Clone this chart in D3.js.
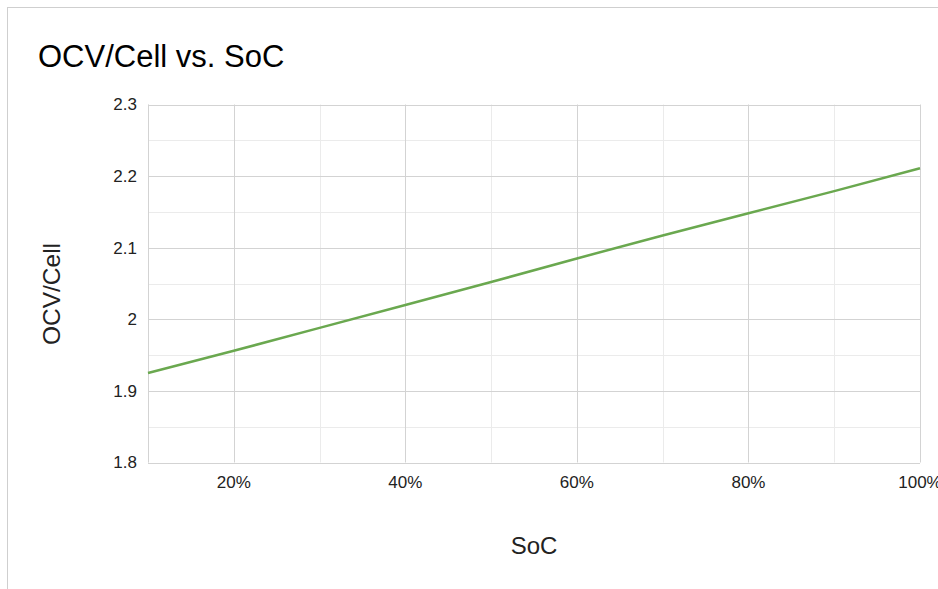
<!DOCTYPE html>
<html><head><meta charset="utf-8">
<script src="https://cdn.jsdelivr.net/npm/d3@7/dist/d3.min.js"></script>
<style>body{margin:0;background:#fff}svg{display:block;font-family:"Liberation Sans",Arial,sans-serif}</style>
</head><body><svg id="c" width="938" height="589"></svg>
<script>
const soc = [10, 20, 30, 40, 50, 60, 70, 80, 90, 100];
const ocv = [1.925, 1.956, 1.988, 2.020, 2.052, 2.085, 2.117, 2.148, 2.179, 2.211];
const xTicks = [20, 40, 60, 80, 100];
const xMinor = [10, 30, 50, 70, 90];
const yTicks = [1.8, 1.9, 2.0, 2.1, 2.2, 2.3];
const yMinor = [1.85, 1.95, 2.05, 2.15, 2.25];
const title = "OCV/Cell vs. SoC", xTitle = "SoC", yTitle = "OCV/Cell";

const svg = d3.select("#c");
const L = 148, R = 920, T = 104.5, B = 462.5;
const x = d3.scaleLinear().domain([10, 100]).range([L, R]);
const y = d3.scaleLinear().domain([1.8, 2.3]).range([B, T]);

svg.append("rect").attr("x", 7.5).attr("y", 7.5).attr("width", 960).attr("height", 600)
  .attr("fill", "#fff").attr("stroke", "#cfcfcf");

const g = svg.append("g");
g.selectAll(".xm").data(xMinor).join("line")
  .attr("x1", d => Math.round(x(d)) + 0.5).attr("x2", d => Math.round(x(d)) + 0.5)
  .attr("y1", T).attr("y2", B).attr("stroke", "#ebebeb");
g.selectAll(".ym").data(yMinor).join("line")
  .attr("y1", d => Math.round(y(d)) + 0.5).attr("y2", d => Math.round(y(d)) + 0.5)
  .attr("x1", L).attr("x2", R).attr("stroke", "#ebebeb");
g.selectAll(".xg").data(xTicks).join("line")
  .attr("x1", d => Math.round(x(d)) + 0.5).attr("x2", d => Math.round(x(d)) + 0.5)
  .attr("y1", T).attr("y2", B).attr("stroke", "#d3d3d3");
g.selectAll(".yg").data(yTicks).join("line")
  .attr("y1", d => Math.round(y(d)) + 0.5).attr("y2", d => Math.round(y(d)) + 0.5)
  .attr("x1", L).attr("x2", R).attr("stroke", "#d3d3d3");
g.append("line").attr("x1", L + 0.5).attr("x2", L + 0.5).attr("y1", T).attr("y2", B).attr("stroke", "#d3d3d3");

const line = d3.line().x((d, i) => x(soc[i])).y(d => y(d));
svg.append("path").datum(ocv).attr("d", line).attr("fill", "none")
  .attr("stroke", "#6aa84f").attr("stroke-width", 2.5);

svg.selectAll(".yl").data(yTicks).join("text")
  .attr("x", 137).attr("y", d => y(d)).attr("dy", "0.35em").attr("text-anchor", "end")
  .attr("font-size", 17).attr("fill", "#222").text(d => d3.format("~g")(d));
svg.selectAll(".xl").data(xTicks).join("text")
  .attr("x", d => x(d)).attr("y", 488).attr("text-anchor", "middle")
  .attr("font-size", 17).attr("fill", "#222").text(d => d + "%");

svg.append("text").attr("x", 38).attr("y", 67).attr("font-size", 31).attr("fill", "#000").text(title);
svg.append("text").attr("x", (L + R) / 2).attr("y", 554).attr("text-anchor", "middle")
  .attr("font-size", 24).attr("fill", "#222").text(xTitle);
svg.append("text").attr("transform", "translate(60,294) rotate(-90)").attr("text-anchor", "middle")
  .attr("font-size", 24.5).attr("fill", "#222").text(yTitle);
</script></body></html>
